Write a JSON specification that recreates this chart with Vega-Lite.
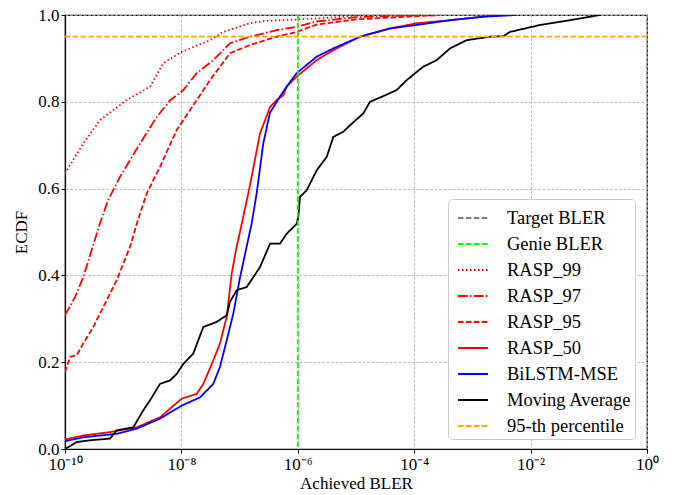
{
  "$schema": "https://vega.github.io/schema/vega-lite/v6.json",
  "width": 582,
  "height": 434,
  "autosize": {"type": "none"},
  "padding": {"left": 65, "top": 15, "right": 26, "bottom": 46},
  "background": "white",
  "config": {
    "font": "Liberation Serif",
    "view": {"stroke": "black", "strokeWidth": 1.2},
    "axis": {
      "labelFont": "Liberation Serif",
      "titleFont": "Liberation Serif",
      "labelFontSize": 17,
      "titleFontSize": 17,
      "titleFontWeight": "normal",
      "labelColor": "black",
      "titleColor": "black",
      "tickColor": "black",
      "tickSize": 4,
      "domain": true,
      "domainColor": "black",
      "domainWidth": 1.2,
      "zindex": 1,
      "gridColor": "#b0b0b0",
      "gridDash": [3, 1.5],
      "gridWidth": 0.8
    },
    "legend": {
      "labelFont": "Liberation Serif",
      "labelFontSize": 18.5,
      "labelColor": "black"
    }
  },
  "datasets": {
    "curves": [
      {"series": "RASP_99", "x": 1e-10, "y": 0.635},
      {"series": "RASP_99", "x": 2.06e-10, "y": 0.704},
      {"series": "RASP_99", "x": 3.99e-10, "y": 0.758},
      {"series": "RASP_99", "x": 1.15e-9, "y": 0.804},
      {"series": "RASP_99", "x": 2.88e-9, "y": 0.835},
      {"series": "RASP_99", "x": 4.89e-9, "y": 0.889},
      {"series": "RASP_99", "x": 1.01e-8, "y": 0.915},
      {"series": "RASP_99", "x": 3.10e-8, "y": 0.942},
      {"series": "RASP_99", "x": 5.19e-8, "y": 0.961},
      {"series": "RASP_99", "x": 1.51e-7, "y": 0.981},
      {"series": "RASP_99", "x": 2.52e-7, "y": 0.986},
      {"series": "RASP_99", "x": 1.09e-6, "y": 0.99},
      {"series": "RASP_99", "x": 5e-6, "y": 0.995},
      {"series": "RASP_99", "x": 1.17e-5, "y": 1.0},

      {"series": "RASP_97", "x": 1e-10, "y": 0.308},
      {"series": "RASP_97", "x": 1.49e-10, "y": 0.35},
      {"series": "RASP_97", "x": 2.06e-10, "y": 0.396},
      {"series": "RASP_97", "x": 3.99e-10, "y": 0.52},
      {"series": "RASP_97", "x": 5.48e-10, "y": 0.573},
      {"series": "RASP_97", "x": 8.81e-10, "y": 0.627},
      {"series": "RASP_97", "x": 1.95e-9, "y": 0.704},
      {"series": "RASP_97", "x": 3.77e-9, "y": 0.765},
      {"series": "RASP_97", "x": 6.37e-9, "y": 0.803},
      {"series": "RASP_97", "x": 1.08e-8, "y": 0.827},
      {"series": "RASP_97", "x": 1.83e-8, "y": 0.866},
      {"series": "RASP_97", "x": 3.53e-8, "y": 0.896},
      {"series": "RASP_97", "x": 6.84e-8, "y": 0.935},
      {"series": "RASP_97", "x": 1.51e-7, "y": 0.95},
      {"series": "RASP_97", "x": 4.34e-7, "y": 0.965},
      {"series": "RASP_97", "x": 9.57e-7, "y": 0.973},
      {"series": "RASP_97", "x": 2.11e-6, "y": 0.985},
      {"series": "RASP_97", "x": 1e-5, "y": 0.995},
      {"series": "RASP_97", "x": 1.26e-4, "y": 1.0},

      {"series": "RASP_95", "x": 1e-10, "y": 0.177},
      {"series": "RASP_95", "x": 1.22e-10, "y": 0.212},
      {"series": "RASP_95", "x": 1.59e-10, "y": 0.216},
      {"series": "RASP_95", "x": 2.06e-10, "y": 0.243},
      {"series": "RASP_95", "x": 3.06e-10, "y": 0.281},
      {"series": "RASP_95", "x": 4.55e-10, "y": 0.327},
      {"series": "RASP_95", "x": 7.73e-10, "y": 0.389},
      {"series": "RASP_95", "x": 1.31e-9, "y": 0.466},
      {"series": "RASP_95", "x": 1.71e-9, "y": 0.519},
      {"series": "RASP_95", "x": 2.54e-9, "y": 0.589},
      {"series": "RASP_95", "x": 4.29e-9, "y": 0.65},
      {"series": "RASP_95", "x": 8.30e-9, "y": 0.735},
      {"series": "RASP_95", "x": 1.41e-8, "y": 0.781},
      {"series": "RASP_95", "x": 3.10e-8, "y": 0.85},
      {"series": "RASP_95", "x": 6.84e-8, "y": 0.912},
      {"series": "RASP_95", "x": 1.51e-7, "y": 0.931},
      {"series": "RASP_95", "x": 4.34e-7, "y": 0.95},
      {"series": "RASP_95", "x": 9.57e-7, "y": 0.961},
      {"series": "RASP_95", "x": 2.11e-6, "y": 0.978},
      {"series": "RASP_95", "x": 1e-5, "y": 0.99},
      {"series": "RASP_95", "x": 2.77e-4, "y": 1.0},

      {"series": "RASP_50", "x": 1e-10, "y": 0.022},
      {"series": "RASP_50", "x": 2.06e-10, "y": 0.031},
      {"series": "RASP_50", "x": 5.93e-10, "y": 0.039},
      {"series": "RASP_50", "x": 1.71e-9, "y": 0.05},
      {"series": "RASP_50", "x": 4.29e-9, "y": 0.073},
      {"series": "RASP_50", "x": 1.01e-8, "y": 0.116},
      {"series": "RASP_50", "x": 1.83e-8, "y": 0.127},
      {"series": "RASP_50", "x": 2.38e-8, "y": 0.15},
      {"series": "RASP_50", "x": 3.53e-8, "y": 0.204},
      {"series": "RASP_50", "x": 4.60e-8, "y": 0.243},
      {"series": "RASP_50", "x": 6.00e-8, "y": 0.304},
      {"series": "RASP_50", "x": 7.31e-8, "y": 0.404},
      {"series": "RASP_50", "x": 8.91e-8, "y": 0.466},
      {"series": "RASP_50", "x": 1.09e-7, "y": 0.519},
      {"series": "RASP_50", "x": 1.51e-7, "y": 0.608},
      {"series": "RASP_50", "x": 2.24e-7, "y": 0.727},
      {"series": "RASP_50", "x": 3.33e-7, "y": 0.788},
      {"series": "RASP_50", "x": 4.34e-7, "y": 0.804},
      {"series": "RASP_50", "x": 5.64e-7, "y": 0.815},
      {"series": "RASP_50", "x": 6.44e-7, "y": 0.835},
      {"series": "RASP_50", "x": 9.57e-7, "y": 0.858},
      {"series": "RASP_50", "x": 2.11e-6, "y": 0.896},
      {"series": "RASP_50", "x": 4.07e-6, "y": 0.919},
      {"series": "RASP_50", "x": 1.17e-5, "y": 0.95},
      {"series": "RASP_50", "x": 3.84e-5, "y": 0.969},
      {"series": "RASP_50", "x": 1.10e-4, "y": 0.981},
      {"series": "RASP_50", "x": 4.12e-4, "y": 0.988},
      {"series": "RASP_50", "x": 1.52e-3, "y": 0.996},
      {"series": "RASP_50", "x": 2.98e-3, "y": 1.0},

      {"series": "BiLSTM-MSE", "x": 1e-10, "y": 0.018},
      {"series": "BiLSTM-MSE", "x": 2.06e-10, "y": 0.027},
      {"series": "BiLSTM-MSE", "x": 7.73e-10, "y": 0.035},
      {"series": "BiLSTM-MSE", "x": 1.71e-9, "y": 0.047},
      {"series": "BiLSTM-MSE", "x": 4.29e-9, "y": 0.07},
      {"series": "BiLSTM-MSE", "x": 1.01e-8, "y": 0.1},
      {"series": "BiLSTM-MSE", "x": 2.09e-8, "y": 0.119},
      {"series": "BiLSTM-MSE", "x": 3.53e-8, "y": 0.15},
      {"series": "BiLSTM-MSE", "x": 4.60e-8, "y": 0.189},
      {"series": "BiLSTM-MSE", "x": 6.00e-8, "y": 0.25},
      {"series": "BiLSTM-MSE", "x": 7.80e-8, "y": 0.312},
      {"series": "BiLSTM-MSE", "x": 1.02e-7, "y": 0.396},
      {"series": "BiLSTM-MSE", "x": 1.32e-7, "y": 0.466},
      {"series": "BiLSTM-MSE", "x": 1.61e-7, "y": 0.519},
      {"series": "BiLSTM-MSE", "x": 1.97e-7, "y": 0.59},
      {"series": "BiLSTM-MSE", "x": 2.55e-7, "y": 0.704},
      {"series": "BiLSTM-MSE", "x": 3.33e-7, "y": 0.775},
      {"series": "BiLSTM-MSE", "x": 4.94e-7, "y": 0.812},
      {"series": "BiLSTM-MSE", "x": 6.44e-7, "y": 0.835},
      {"series": "BiLSTM-MSE", "x": 9.57e-7, "y": 0.866},
      {"series": "BiLSTM-MSE", "x": 2.11e-6, "y": 0.904},
      {"series": "BiLSTM-MSE", "x": 4.07e-6, "y": 0.923},
      {"series": "BiLSTM-MSE", "x": 1.17e-5, "y": 0.95},
      {"series": "BiLSTM-MSE", "x": 3.84e-5, "y": 0.969},
      {"series": "BiLSTM-MSE", "x": 1.10e-4, "y": 0.977},
      {"series": "BiLSTM-MSE", "x": 4.12e-4, "y": 0.988},
      {"series": "BiLSTM-MSE", "x": 1.52e-3, "y": 0.996},
      {"series": "BiLSTM-MSE", "x": 5.77e-3, "y": 1.0},

      {"series": "Moving Average", "x": 1e-10, "y": 0.0},
      {"series": "Moving Average", "x": 1.59e-10, "y": 0.016},
      {"series": "Moving Average", "x": 2.69e-10, "y": 0.02},
      {"series": "Moving Average", "x": 5.93e-10, "y": 0.024},
      {"series": "Moving Average", "x": 7.73e-10, "y": 0.043},
      {"series": "Moving Average", "x": 1.49e-9, "y": 0.05},
      {"series": "Moving Average", "x": 2.21e-9, "y": 0.089},
      {"series": "Moving Average", "x": 2.88e-9, "y": 0.112},
      {"series": "Moving Average", "x": 4.29e-9, "y": 0.15},
      {"series": "Moving Average", "x": 6.37e-9, "y": 0.158},
      {"series": "Moving Average", "x": 8.30e-9, "y": 0.173},
      {"series": "Moving Average", "x": 1.08e-8, "y": 0.196},
      {"series": "Moving Average", "x": 1.60e-8, "y": 0.22},
      {"series": "Moving Average", "x": 2.38e-8, "y": 0.281},
      {"series": "Moving Average", "x": 4.05e-8, "y": 0.293},
      {"series": "Moving Average", "x": 6.00e-8, "y": 0.308},
      {"series": "Moving Average", "x": 6.84e-8, "y": 0.339},
      {"series": "Moving Average", "x": 8.91e-8, "y": 0.366},
      {"series": "Moving Average", "x": 1.32e-7, "y": 0.373},
      {"series": "Moving Average", "x": 1.72e-7, "y": 0.396},
      {"series": "Moving Average", "x": 2.24e-7, "y": 0.419},
      {"series": "Moving Average", "x": 3.33e-7, "y": 0.473},
      {"series": "Moving Average", "x": 4.94e-7, "y": 0.473},
      {"series": "Moving Average", "x": 6.44e-7, "y": 0.496},
      {"series": "Moving Average", "x": 9.57e-7, "y": 0.519},
      {"series": "Moving Average", "x": 1.02e-6, "y": 0.535},
      {"series": "Moving Average", "x": 1.09e-6, "y": 0.581},
      {"series": "Moving Average", "x": 1.42e-6, "y": 0.596},
      {"series": "Moving Average", "x": 2.11e-6, "y": 0.642},
      {"series": "Moving Average", "x": 3.14e-6, "y": 0.673},
      {"series": "Moving Average", "x": 4.07e-6, "y": 0.719},
      {"series": "Moving Average", "x": 6.05e-6, "y": 0.731},
      {"series": "Moving Average", "x": 7.89e-6, "y": 0.746},
      {"series": "Moving Average", "x": 1.33e-5, "y": 0.773},
      {"series": "Moving Average", "x": 1.74e-5, "y": 0.8},
      {"series": "Moving Average", "x": 2.94e-5, "y": 0.813},
      {"series": "Moving Average", "x": 5.00e-5, "y": 0.827},
      {"series": "Moving Average", "x": 7.43e-5, "y": 0.85},
      {"series": "Moving Average", "x": 1.43e-4, "y": 0.881},
      {"series": "Moving Average", "x": 2.44e-4, "y": 0.896},
      {"series": "Moving Average", "x": 4.12e-4, "y": 0.923},
      {"series": "Moving Average", "x": 7.98e-4, "y": 0.942},
      {"series": "Moving Average", "x": 2.00e-3, "y": 0.95},
      {"series": "Moving Average", "x": 3.40e-3, "y": 0.951},
      {"series": "Moving Average", "x": 4.43e-3, "y": 0.961},
      {"series": "Moving Average", "x": 1.45e-2, "y": 0.977},
      {"series": "Moving Average", "x": 4.75e-2, "y": 0.988},
      {"series": "Moving Average", "x": 0.156, "y": 1.0}
    ],
    "vline": [{"series": "Genie BLER", "x": 1e-6}],
    "hline": [{"series": "95-th percentile", "y": 0.95}]
  },
  "encoding": {
    "color": {
      "field": "series",
      "type": "nominal",
      "scale": {
        "domain": ["Target BLER", "Genie BLER", "RASP_99", "RASP_97", "RASP_95", "RASP_50", "BiLSTM-MSE", "Moving Average", "95-th percentile"],
        "range": ["#808080", "#00ff00", "#ff0000", "#ff0000", "#ff0000", "#ff0000", "#0000ff", "#000000", "#ffa500"]
      },
      "legend": {
        "title": null,
        "orient": "none",
        "legendX": 383,
        "legendY": 184,
        "symbolType": "stroke",
        "symbolSize": 900,
        "symbolStrokeWidth": 2,
        "symbolOffset": 6,
        "rowPadding": -2,
        "labelOffset": 18,
        "padding": 3,
        "fillColor": "white",
        "strokeColor": "#cccccc",
        "cornerRadius": 4
      }
    },
    "strokeDash": {
      "field": "series",
      "type": "nominal",
      "scale": {
        "domain": ["Target BLER", "Genie BLER", "RASP_99", "RASP_97", "RASP_95", "RASP_50", "BiLSTM-MSE", "Moving Average", "95-th percentile"],
        "range": [[5.5, 2.4], [5.5, 2.4], [1.5, 2.5], [9.6, 2.4, 1.5, 2.4], [5.5, 2.4], [1, 0], [1, 0], [1, 0], [5.5, 2.4]]
      },
      "legend": null
    }
  },
  "layer": [
    {
      "data": {"name": "curves"},
      "mark": {"type": "line", "strokeWidth": 1.8, "clip": true},
      "encoding": {
        "x": {
          "field": "x",
          "type": "quantitative",
          "scale": {"type": "log", "domain": [1e-10, 1], "nice": false},
          "axis": {
            "title": "Achieved BLER",
            "values": [1e-10, 1e-8, 1e-6, 1e-4, 1e-2, 1],
            "labelExpr": "datum.value < 1e-9 ? '10⁻¹⁰' : datum.value < 1e-7 ? '10⁻⁸' : datum.value < 1e-5 ? '10⁻⁶' : datum.value < 1e-3 ? '10⁻⁴' : datum.value < 0.1 ? '10⁻²' : '10⁰'",
            "labelFlush": false,
            "labelPadding": 3,
            "titlePadding": 3
          }
        },
        "y": {
          "field": "y",
          "type": "quantitative",
          "scale": {"domain": [0, 1], "nice": false},
          "axis": {
            "title": "ECDF",
            "values": [0, 0.2, 0.4, 0.6, 0.8, 1.0],
            "format": ".1f",
            "titlePadding": 7
          }
        }
      }
    },
    {
      "data": {"name": "vline"},
      "mark": {"type": "rule", "strokeWidth": 1.8},
      "encoding": {
        "x": {"field": "x", "type": "quantitative"}
      }
    },
    {
      "data": {"name": "hline"},
      "mark": {"type": "rule", "strokeWidth": 1.8},
      "encoding": {
        "y": {"field": "y", "type": "quantitative"}
      }
    }
  ]
}
